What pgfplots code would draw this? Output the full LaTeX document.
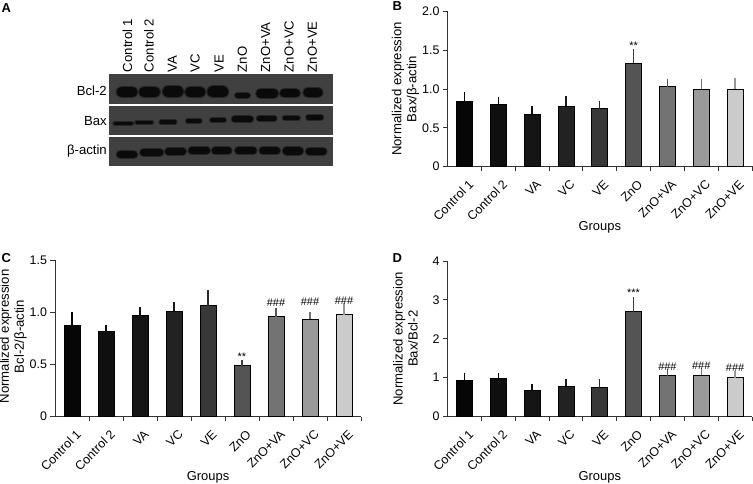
\documentclass[border=0pt]{standalone}
\usepackage{fontspec}
\setmainfont{Liberation Sans}
\usepackage{pgfplots}
\pgfplotsset{compat=1.18}
\definecolor{g1}{HTML}{060606}
\definecolor{g2}{HTML}{0F0F0F}
\definecolor{g3}{HTML}{151515}
\definecolor{g4}{HTML}{222222}
\definecolor{g5}{HTML}{383838}
\definecolor{g6}{HTML}{545454}
\definecolor{g7}{HTML}{737373}
\definecolor{g8}{HTML}{9A9A9A}
\definecolor{g9}{HTML}{CBCBCB}
\definecolor{axc}{HTML}{333333}
\definecolor{blotbg}{HTML}{404040}
\definecolor{bandc}{HTML}{0A0A0A}
\definecolor{bandh}{HTML}{262626}

\newcommand\onebar[4]{\addplot[ybar, bar width=16bp, bar shift=0pt, fill=#1, draw=black, line width=0.7bp,
  error bars/.cd, y dir=plus, y explicit,
  error bar style={line width=1.3bp, draw=#1!75!black},
  error mark options={line width=1.3bp, mark size=3.5bp, draw=#1!75!black}]
  coordinates {(#2,#3) +- (0,#4)};}
% x1 x2 y thickness halo
\newcommand\band[5]{%
  \addplot[bandh, mark=none, line width=#5bp, line cap=round] coordinates {(#1,#3) (#2,#3)};
  \addplot[bandc, mark=none, line width=#4bp, line cap=round] coordinates {(#1,#3) (#2,#3)};}
\newcommand\sig[3]{\addplot[only marks, mark=text, text mark={#3}, text mark as node=true,
  text mark style={font=\fontsize{11}{11}\selectfont, inner sep=0pt}] coordinates {(#1,#2)};}

\pgfplotsset{
  barpanel/.style={
    scale only axis, clip=false,
    xmin=0.5, xmax=9.5, ymin=0,
    axis lines=left, axis line style={-, draw=axc, line width=0.9bp},
    tick align=outside,
    xtick={1,...,9},
    xticklabels={Control 1,Control 2,VA,VC,VE,ZnO,ZnO+VA,ZnO+VC,ZnO+VE},
    minor xtick={1.5,2.5,...,9.5},
    major x tick style={draw=none},
    minor x tick style={draw=axc, line width=0.9bp},
    minor tick length=4.5bp,
    major tick length=4.5bp,
    ytick style={draw=axc, line width=0.9bp},
    xticklabel style={xshift=3.5bp, yshift=-8bp, rotate=45, anchor=north east, inner sep=0pt,
      font=\fontsize{12.5}{14}\selectfont},
    yticklabel style={font=\fontsize{12.5}{14}\selectfont},
    xlabel={Groups},
    every axis x label/.style={at={(axis description cs:0.5,0)}, yshift=-61bp, anchor=center,
      font=\fontsize{13}{15}\selectfont},
    every axis y label/.style={at={(axis description cs:0,0.5)}, xshift=-42bp, rotate=90,
      anchor=center, align=center, font=\fontsize{13.2}{15}\selectfont},
  }
}

\begin{document}
\begin{tikzpicture}
\path[use as bounding box] (0,0) rectangle (753bp,484bp);

% ---------------- Panel A (blot) ----------------
\begin{axis}[at={(109bp,318bp)}, anchor=south west, scale only axis,
  width=223.7bp, height=91.7bp,
  xmin=109, xmax=332.7, ymin=318, ymax=409.7,
  axis line style={draw=none}, major tick length=0pt,
  xtick={128.3,150,173.3,196,220,243.3,266.7,290,313.3},
  xticklabels={Control 1,Control 2,VA,VC,VE,ZnO,ZnO+VA,ZnO+VC,ZnO+VE},
  xticklabel pos=upper,
  xticklabel style={rotate=90, anchor=west, inner sep=2pt, yshift=1bp, font=\fontsize{13.2}{15}\selectfont},
  ytick={393.3,363.3,333.3},
  yticklabels={Bcl-2,Bax,β-actin},
  yticklabel style={anchor=east, inner sep=2pt, font=\fontsize{13.2}{15}\selectfont},
  clip=false]
\addplot[fill=blotbg, draw=none] coordinates {(109,409.7) (332.7,409.7) (332.7,379.7) (109,379.7)} -- cycle;
\addplot[fill=blotbg, draw=none] coordinates {(109,378.3) (332.7,378.3) (332.7,349) (109,349)} -- cycle;
\addplot[fill=blotbg, draw=none] coordinates {(109,347.3) (332.7,347.3) (332.7,318) (109,318)} -- cycle;
% Bcl-2
\band{121.9}{132.1}{392}{10.5}{12.5}
\band{144.25}{154.75}{392}{10.5}{12.5}
\band{167.9}{178.1}{392.5}{10.5}{12.5}
\band{190.3}{200.1}{392}{10.5}{12.5}
\band{212.8}{222.8}{392.2}{11}{13}
\band{237.75}{247.25}{388.7}{5.5}{7.5}
\band{260.55}{273.85}{390.5}{9}{11}
\band{284}{296}{390.5}{8}{10}
\band{308.1}{317.9}{391.5}{9.5}{11.5}
% Bax
\band{115.05}{131.55}{360.7}{3.5}{5.5}
\band{136.8}{151.6}{361.7}{3.5}{5.5}
\band{161.1}{174.9}{362}{3.5}{5.5}
\band{187.95}{199.65}{363}{4}{6}
\band{212}{224}{363.7}{4}{6}
\band{234.9}{250.1}{364.8}{6.5}{8.5}
\band{258.95}{274.45}{365.7}{4.5}{6.5}
\band{284.9}{297.7}{366}{4.5}{6.5}
\band{308.3}{321.1}{366.7}{4.5}{6.5}
% beta-actin
\band{120.4}{133.6}{329.5}{7.5}{9.5}
\band{143.55}{159.85}{331.3}{7}{9}
\band{168.25}{182.75}{332.7}{6.5}{8.5}
\band{191.85}{206.55}{333.7}{7}{9}
\band{215.2}{228.2}{333}{7}{9}
\band{238.45}{253.15}{333}{7}{9}
\band{262.85}{276.55}{333}{7}{9}
\band{286.7}{299.3}{333.2}{8}{10}
\band{309.45}{322.95}{332.7}{7.5}{9.5}
\end{axis}

% ---------------- Panel B ----------------
\begin{axis}[barpanel, at={(447.5bp,317.5bp)}, anchor=south west,
  width=304.5bp, height=155bp, ymax=2,
  ytick={0,0.5,1,1.5,2}, yticklabels={0,0.5,1.0,1.5,2.0},
  ylabel={Normalized expression\\Bax/β-actin}]
\onebar{g1}{1}{0.84}{0.075}
\onebar{g2}{2}{0.80}{0.055}
\onebar{g3}{3}{0.67}{0.06}
\onebar{g4}{4}{0.775}{0.085}
\onebar{g5}{5}{0.745}{0.05}
\onebar{g6}{6}{1.33}{0.14}
\onebar{g7}{7}{1.03}{0.06}
\onebar{g8}{8}{1.00}{0.085}
\onebar{g9}{9}{1.00}{0.10}
\sig{6}{1.56}{**}
\end{axis}

% ---------------- Panel C ----------------
\begin{axis}[barpanel, at={(55bp,67.5bp)}, anchor=south west,
  width=306bp, height=156bp, ymax=1.5,
  ytick={0,0.5,1,1.5}, yticklabels={0,0.5,1.0,1.5},
  every axis y label/.append style={xshift=2bp},
  ylabel={Normalized expression\\Bcl-2/β-actin}]
\onebar{g1}{1}{0.88}{0.09}
\onebar{g2}{2}{0.82}{0.03}
\onebar{g3}{3}{0.97}{0.045}
\onebar{g4}{4}{1.01}{0.06}
\onebar{g5}{5}{1.065}{0.115}
\onebar{g6}{6}{0.49}{0.015}
\onebar{g7}{7}{0.96}{0.05}
\onebar{g8}{8}{0.935}{0.035}
\onebar{g9}{9}{0.98}{0.075}
\sig{6}{0.575}{**}
\sig{7}{1.095}{\#\#\#}
\sig{8}{1.10}{\#\#\#}
\sig{9}{1.11}{\#\#\#}
\end{axis}

% ---------------- Panel D ----------------
\begin{axis}[barpanel, at={(447.5bp,67.5bp)}, anchor=south west,
  width=304.5bp, height=155.5bp, ymax=4,
  ytick={0,1,2,3,4}, yticklabels={0,1,2,3,4},
  ylabel={Normalized expression\\Bax/Bcl-2}]
\onebar{g1}{1}{0.94}{0.10}
\onebar{g2}{2}{0.97}{0.05}
\onebar{g3}{3}{0.67}{0.07}
\onebar{g4}{4}{0.78}{0.085}
\onebar{g5}{5}{0.74}{0.13}
\onebar{g6}{6}{2.70}{0.28}
\onebar{g7}{7}{1.07}{0.05}
\onebar{g8}{8}{1.06}{0.09}
\onebar{g9}{9}{1.00}{0.09}
\sig{6}{3.18}{***}
\sig{7}{1.28}{\#\#\#}
\sig{8}{1.30}{\#\#\#}
\sig{9}{1.25}{\#\#\#}
\end{axis}

% panel letters
\node[anchor=north west, inner sep=0pt, font=\bfseries\fontsize{13}{15}\selectfont] at (1.5bp,481bp) {A};
\node[anchor=north west, inner sep=0pt, font=\bfseries\fontsize{13}{15}\selectfont] at (392.5bp,482.5bp) {B};
\node[anchor=north west, inner sep=0pt, font=\bfseries\fontsize{13}{15}\selectfont] at (1.5bp,231bp) {C};
\node[anchor=north west, inner sep=0pt, font=\bfseries\fontsize{13}{15}\selectfont] at (392.5bp,231bp) {D};
\end{tikzpicture}
\end{document}
